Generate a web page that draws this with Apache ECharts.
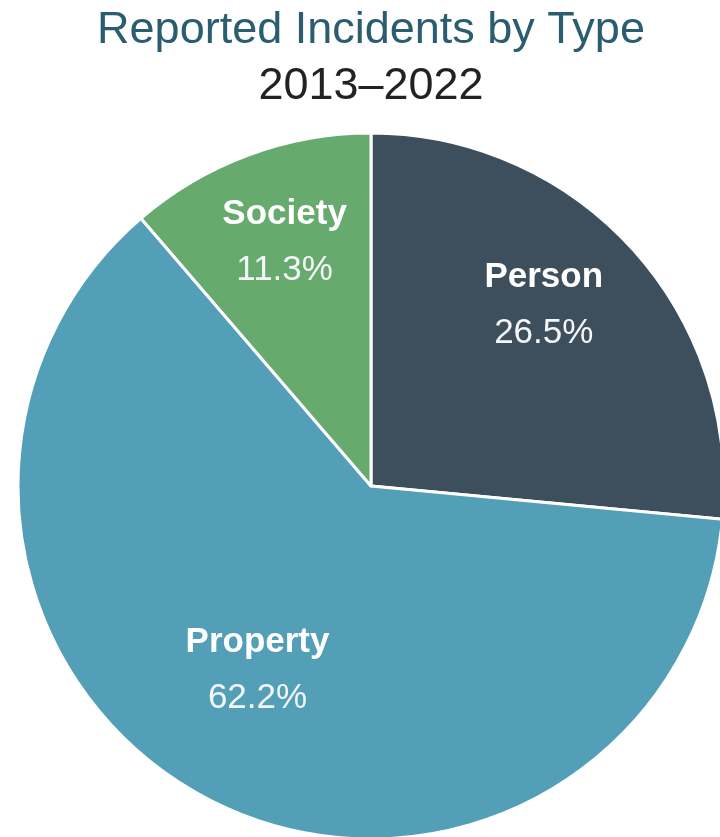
<!DOCTYPE html>
<html>
<head>
<meta charset="utf-8">
<script src="https://cdn.jsdelivr.net/npm/echarts@6/dist/echarts.min.js"></script>
<style>
html,body{margin:0;padding:0;background:#fff;}
#chart{width:720px;height:837px;}
</style>
</head>
<body>
<div id="chart"></div>
<script>
const categories = ['Person', 'Property', 'Society'];
const shares = [26.5, 62.2, 11.3];
const titleLine = 'Reported Incidents by Type';
const subtitleLine = '2013–2022';

const sliceColors = ['#3d4f5c', '#549fb8', '#66aa6e'];
const labelOffsets = [[40, -60], [-31, 25], [-24, -75]];

const chart = echarts.init(document.getElementById('chart'), null, {renderer: 'canvas'});
chart.setOption({
  animation: false,
  title: {
    text: titleLine,
    subtext: subtitleLine,
    left: 371,
    textAlign: 'center',
    top: 5,
    padding: 0,
    itemGap: 4,
    textStyle: {
      fontFamily: 'Liberation Sans, Arial, sans-serif',
      fontSize: 45, fontWeight: 'normal', color: '#2a5d70', lineHeight: 52
    },
    subtextStyle: {
      fontFamily: 'Liberation Sans, Arial, sans-serif',
      fontSize: 45, color: '#222222', lineHeight: 52
    }
  },
  series: [{
    type: 'pie',
    center: [371, 486],
    radius: [0, 353],
    startAngle: 90,
    clockwise: true,
    avoidLabelOverlap: false,
    itemStyle: {borderColor: '#ffffff', borderWidth: 3},
    label: {
      show: true,
      position: 'inside',
      formatter: p => '{n|' + p.name + '}\n{v|' + p.value.toFixed(1) + '%}',
      rich: {
        n: {fontFamily: 'Liberation Sans, Arial, sans-serif', fontSize: 35, fontWeight: 'bold', color: '#ffffff', lineHeight: 56},
        v: {fontFamily: 'Liberation Sans, Arial, sans-serif', fontSize: 35, color: '#f4f6f8', lineHeight: 56}
      }
    },
    labelLine: {show: false},
    emphasis: {disabled: true},
    data: categories.map((c, i) => ({
      name: c,
      value: shares[i],
      itemStyle: {color: sliceColors[i]},
      label: {offset: labelOffsets[i]}
    }))
  }]
});
</script>
</body>
</html>
